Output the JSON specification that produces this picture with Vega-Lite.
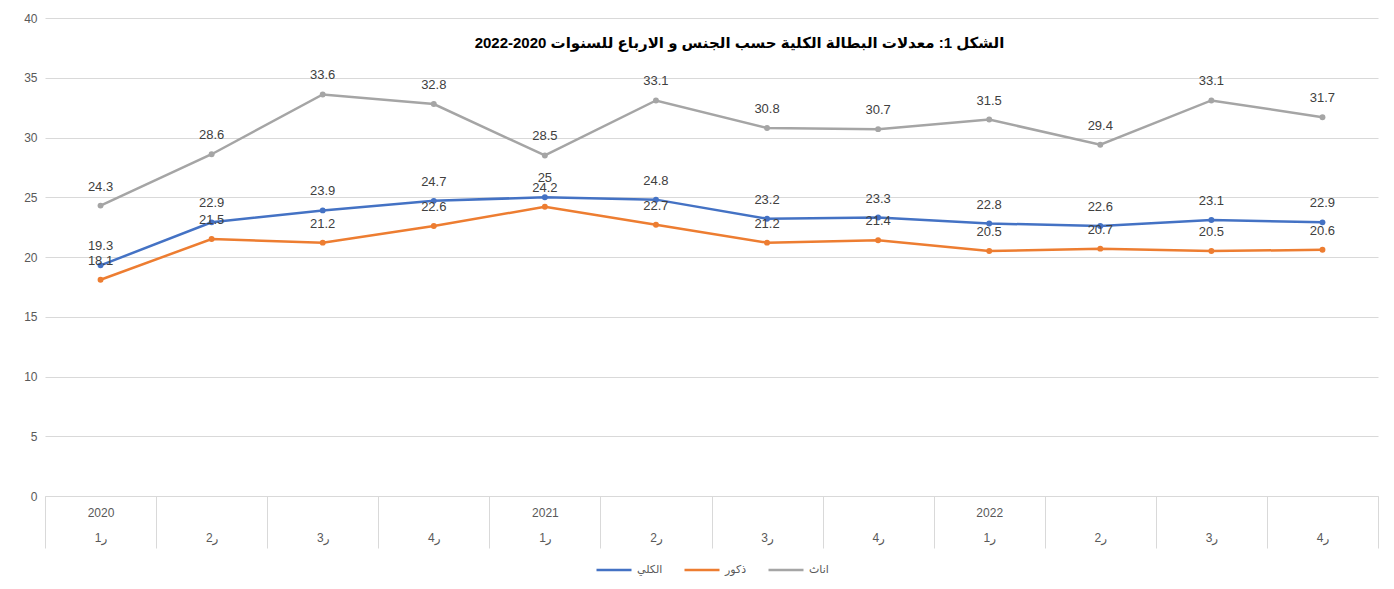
{
  "$schema": "https://vega.github.io/schema/vega-lite/v6.json",
  "autosize": "none",
  "width": 1333,
  "height": 478,
  "padding": {"left": 45, "top": 18, "right": 16, "bottom": 93},
  "background": "white",
  "config": {
    "font": "Liberation Sans, DejaVu Sans",
    "view": {"stroke": null},
    "legend": {"layout": {"bottom": {"anchor": "middle"}}}
  },
  "title": {
    "text": "الشكل 1: معدلات البطالة الكلية حسب الجنس و الارباع للسنوات 2020-2022",
    "fontSize": 15,
    "fontWeight": "bold",
    "color": "#000000",
    "anchor": "middle",
    "baseline": "middle",
    "offset": -46,
    "dx": 28
  },
  "data": {
    "values": [
      {"q": "2020|ر1", "series": "الكلي", "value": 19.3},
      {"q": "2020|ر2", "series": "الكلي", "value": 22.9},
      {"q": "2020|ر3", "series": "الكلي", "value": 23.9},
      {"q": "2020|ر4", "series": "الكلي", "value": 24.7},
      {"q": "2021|ر1", "series": "الكلي", "value": 25},
      {"q": "2021|ر2", "series": "الكلي", "value": 24.8},
      {"q": "2021|ر3", "series": "الكلي", "value": 23.2},
      {"q": "2021|ر4", "series": "الكلي", "value": 23.3},
      {"q": "2022|ر1", "series": "الكلي", "value": 22.8},
      {"q": "2022|ر2", "series": "الكلي", "value": 22.6},
      {"q": "2022|ر3", "series": "الكلي", "value": 23.1},
      {"q": "2022|ر4", "series": "الكلي", "value": 22.9},
      {"q": "2020|ر1", "series": "ذكور", "value": 18.1},
      {"q": "2020|ر2", "series": "ذكور", "value": 21.5},
      {"q": "2020|ر3", "series": "ذكور", "value": 21.2},
      {"q": "2020|ر4", "series": "ذكور", "value": 22.6},
      {"q": "2021|ر1", "series": "ذكور", "value": 24.2},
      {"q": "2021|ر2", "series": "ذكور", "value": 22.7},
      {"q": "2021|ر3", "series": "ذكور", "value": 21.2},
      {"q": "2021|ر4", "series": "ذكور", "value": 21.4},
      {"q": "2022|ر1", "series": "ذكور", "value": 20.5},
      {"q": "2022|ر2", "series": "ذكور", "value": 20.7},
      {"q": "2022|ر3", "series": "ذكور", "value": 20.5},
      {"q": "2022|ر4", "series": "ذكور", "value": 20.6},
      {"q": "2020|ر1", "series": "اناث", "value": 24.3},
      {"q": "2020|ر2", "series": "اناث", "value": 28.6},
      {"q": "2020|ر3", "series": "اناث", "value": 33.6},
      {"q": "2020|ر4", "series": "اناث", "value": 32.8},
      {"q": "2021|ر1", "series": "اناث", "value": 28.5},
      {"q": "2021|ر2", "series": "اناث", "value": 33.1},
      {"q": "2021|ر3", "series": "اناث", "value": 30.8},
      {"q": "2021|ر4", "series": "اناث", "value": 30.7},
      {"q": "2022|ر1", "series": "اناث", "value": 31.5},
      {"q": "2022|ر2", "series": "اناث", "value": 29.4},
      {"q": "2022|ر3", "series": "اناث", "value": 33.1},
      {"q": "2022|ر4", "series": "اناث", "value": 31.7}
    ]
  },
  "encoding": {
    "x": {
      "field": "q",
      "type": "nominal",
      "sort": null,
      "scale": {"paddingInner": 0, "paddingOuter": 0},
      "axis": {
        "title": null,
        "labelAngle": 0,
        "labelExpr": "split(datum.value, '|')[1] == 'ر1' ? split(datum.value, '|') : ['', split(datum.value, '|')[1]]",
        "labelLineHeight": 25,
        "labelFontSize": 12,
        "labelColor": "#595959",
        "labelPadding": -41,
        "labelBaseline": "top",
        "tickBand": "extent",
        "tickSize": 52,
        "tickColor": "#d9d9d9",
        "domainColor": "#d9d9d9",
        "grid": false
      }
    },
    "y": {
      "field": "value",
      "type": "quantitative",
      "scale": {"domain": [0, 40], "nice": false},
      "axis": {
        "title": null,
        "values": [0, 5, 10, 15, 20, 25, 30, 35, 40],
        "ticks": false,
        "domain": false,
        "labelPadding": 8,
        "labelFontSize": 12,
        "labelColor": "#595959",
        "gridColor": "#d9d9d9"
      }
    },
    "color": {
      "field": "series",
      "type": "nominal",
      "scale": {
        "domain": ["الكلي", "ذكور", "اناث"],
        "range": ["#4472C4", "#ED7D31", "#A5A5A5"]
      },
      "legend": {
        "title": null,
        "orient": "bottom",
        "direction": "horizontal",
        "symbolType": "stroke",
        "symbolSize": 1225,
        "symbolStrokeWidth": 2.5,
        "labelFontSize": 11,
        "labelColor": "#595959",
        "columnPadding": 16,
        "offset": 2
      }
    }
  },
  "layer": [
    {
      "mark": {"type": "line", "strokeWidth": 2.5, "point": {"size": 35, "filled": true}}
    },
    {
      "mark": {"type": "text", "dy": -19, "fontSize": 13, "color": "#404040"},
      "encoding": {
        "text": {"field": "value", "type": "quantitative"},
        "color": {"value": "#404040"}
      }
    }
  ]
}
